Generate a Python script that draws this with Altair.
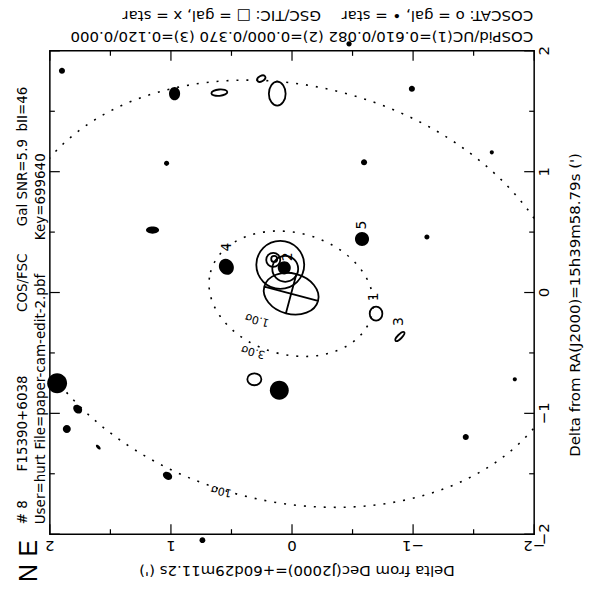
import altair as alt
import pandas as pd

PX = 121.4          # pixels per arcminute (plot is 486 px for 4')
W, H = 486, 485
FONT = "DejaVu Sans"
INK = "#000000"

# ---- catalogue objects (offsets in arcmin) ----
filled_x = [1.90, 0.97, -0.99, 1.036, -0.595, -1.65, 1.152, -1.114, 0.542,
            -0.578, 0.064, 0.105, 1.94, 1.77, 1.86, 1.60, 1.028, -1.435, -1.84,
            -0.471, 0.74]
filled_y = [1.835, 1.646, 1.687, 1.069, 1.078, 1.16, 0.517, 0.46, 0.213,
            0.443, 0.204, -0.809, -0.751, -0.965, -1.13, -1.28, -1.517, -1.196,
            -0.718, 2.058, -2.05]
filled_a = [0.025, 0.054, 0.025, 0.021, 0.025, 0.017, 0.054, 0.021, 0.068,
            0.058, 0.054, 0.078, 0.082, 0.041, 0.033, 0.025, 0.041, 0.025,
            0.017, 0.022, 0.024]
filled_ratio = [1, 0.85, 1, 1, 1, 1, 0.55, 1, 0.88,
                1, 1, 1, 1, 0.8, 1, 0.5, 0.75, 1, 1, 1, 1]
filled_angle = [0, 90, 0, 0, 0, 0, 0, 0, 60,
                0, 0, 0, 0, 45, 0, 45, 30, 0, 0, 0, 0]

open_x = [0.254, 0.60, 0.122, 0.311, -0.694, -0.891, 0.097, 0.056, 0.155, 0.147]
open_y = [1.77, 1.654, 1.646, -0.718, -0.175, -0.364, 0.229, 0.196, 0.27, 0.278]
open_a = [0.037, 0.066, 0.099, 0.058, 0.058, 0.05, 0.198, 0.107, 0.058, 0.025]
open_ratio = [0.6, 0.4, 0.7, 0.85, 0.9, 0.35, 1, 1, 1, 1]
open_angle = [330, 355, 90, 0, 90, 315, 0, 0, 0, 0]

# IRAS position error ellipse (3 and 10 sigma dotted, 1 sigma solid)
sig_x = [0.007, 0.007]
sig_y = [-0.01, -0.01]
sig_a = [0.69, 2.35]
one_sig_a = [0.23]
sig_ratio = 0.73
sig_angle = 15

num_text = ["1", "2", "3", "4", "5"]
num_x = [-0.677, 0.031, -0.883, 0.534, -0.578]
num_y = [-0.035, 0.295, -0.24, 0.377, 0.558]
sig_text = ["1.0σ", "3.0σ", "10σ"]
sig_lx = [0.287, 0.32, 0.583]
sig_ly = [-0.224, -0.488, -1.64]
sig_lang = [195, 195, 192]

major_ticks = [-2, -1, 0, 1, 2]
minor_ticks = [-1.5, -0.5, 0.5, 1.5]
tick_text = ["−2", "−1", "0", "1", "2"]

# ---- helpers ----
def ell_path(r):
    return f"M -1 0 A 1 {r:g} 0 1 1 1 0 A 1 {r:g} 0 1 1 -1 0 Z"

ratios = sorted(set(filled_ratio + open_ratio))
shape_scale = alt.Scale(domain=[f"{r:g}" for r in ratios],
                        range=[ell_path(r) for r in ratios])
xs = alt.Scale(domain=[-2, 2], reverse=True, nice=False, zero=False)
ys = alt.Scale(domain=[-2, 2], nice=False, zero=False)
size_scale = alt.Scale(type="pow", exponent=2, domain=[0, 1],
                       range=[0, 4 * PX * PX])

def X(f):
    return alt.X(f, type="quantitative", scale=xs, axis=None)

def Y(f):
    return alt.Y(f, type="quantitative", scale=ys, axis=None)

filled_df = pd.DataFrame({"x": filled_x, "y": filled_y, "a": filled_a,
                          "r": [f"{r:g}" for r in filled_ratio], "ang": filled_angle})
open_df = pd.DataFrame({"x": open_x, "y": open_y, "a": open_a,
                        "r": [f"{r:g}" for r in open_ratio], "ang": open_angle})
sig_df = pd.DataFrame({"x": sig_x, "y": sig_y, "a": sig_a})
one_df = pd.DataFrame({"x": sig_x[:1], "y": sig_y[:1], "a": one_sig_a})
num_df = pd.DataFrame({"x": num_x, "y": num_y, "t": num_text})
sl_df = pd.DataFrame({"x": sig_lx, "y": sig_ly, "t": sig_text, "ang": sig_lang})
lab_df = pd.DataFrame({"v": major_ticks, "t": tick_text})

sig_layer = alt.Chart(sig_df).mark_point(
    filled=False, stroke=INK, strokeWidth=1.6, strokeDash=[2, 8], opacity=1, clip=True
).encode(
    x=X("x"), y=Y("y"),
    size=alt.Size("a:Q", scale=size_scale, legend=None),
    shape=alt.value(ell_path(sig_ratio)), angle=alt.value(sig_angle),
)

one_layer = alt.Chart(one_df).mark_point(
    filled=False, stroke=INK, strokeWidth=1.8, opacity=1
).encode(
    x=X("x"), y=Y("y"),
    size=alt.Size("a:Q", scale=size_scale, legend=None),
    shape=alt.value(ell_path(sig_ratio) + f" M -1 0 L 1 0 M 0 -{sig_ratio} L 0 {sig_ratio}"),
    angle=alt.value(sig_angle),
)

filled_layer = alt.Chart(filled_df).mark_point(
    filled=True, fill=INK, strokeWidth=0, opacity=1
).encode(
    x=X("x"), y=Y("y"),
    size=alt.Size("a:Q", scale=size_scale, legend=None),
    shape=alt.Shape("r:N", scale=shape_scale, legend=None),
    angle=alt.Angle("ang:Q", scale=None),
)

open_layer = alt.Chart(open_df).mark_point(
    filled=False, stroke=INK, strokeWidth=1.8, opacity=1
).encode(
    x=X("x"), y=Y("y"),
    size=alt.Size("a:Q", scale=size_scale, legend=None),
    shape=alt.Shape("r:N", scale=shape_scale, legend=None),
    angle=alt.Angle("ang:Q", scale=None),
)

num_layer = alt.Chart(num_df).mark_text(
    font=FONT, fontSize=14, angle=270, fill=INK, align="center", baseline="middle"
).encode(x=X("x"), y=Y("y"), text="t:N")

sl_layer = alt.Chart(sl_df).mark_text(
    font=FONT, fontSize=11, fill=INK, align="center", baseline="middle"
).encode(x=X("x"), y=Y("y"), text="t:N", angle=alt.Angle("ang:Q", scale=None))

xlab_layer = alt.Chart(lab_df).mark_text(
    font=FONT, fontSize=15, angle=180, fill=INK, align="center", baseline="middle"
).encode(x=X("v"), y=alt.value(H + 12), text="t:N")
ylab_layer = alt.Chart(lab_df).mark_text(
    font=FONT, fontSize=15, angle=270, fill=INK, align="center", baseline="middle"
).encode(y=Y("v"), x=alt.value(W + 10), text="t:N")

tick_layers = []
for vals, ln in ((major_ticks, 10), (minor_ticks, 5)):
    tdf = pd.DataFrame({"t": vals})
    base = alt.Chart(tdf).mark_rule(color=INK, strokeWidth=1.2)
    tick_layers += [
        base.encode(x=X("t"), y=alt.value(0), y2=alt.value(ln)),
        base.encode(x=X("t"), y=alt.value(H), y2=alt.value(H - ln)),
        base.encode(y=Y("t"), x=alt.value(0), x2=alt.value(ln)),
        base.encode(y=Y("t"), x=alt.value(W), x2=alt.value(W - ln)),
    ]

def note(text, px, py, angle, size=15, align="left", font=FONT):
    return alt.Chart(pd.DataFrame({"t": [text]})).mark_text(
        font=font, fontSize=size, angle=angle, align=align, baseline="middle", fill=INK
    ).encode(text="t:N", x=alt.value(px - 50), y=alt.value(py - 50))

notes = [
    note("COSCAT: o = gal, • = star", 535, 15, 180),
    note("GSC/TIC: □ = gal, x = star", 322, 15, 180),
    note("COSPid/UC(1)=0.610/0.082 (2)=0.000/0.370 (3)=0.120/0.000", 535, 36, 180),
    note("# 8", 23, 525, 270, size=13.5),
    note("F15390+6038", 23, 472, 270, size=13.5),
    note("COS/FSC", 23, 312, 270, size=13.5),
    note("Gal SNR=5.9", 23, 226, 270, size=13.5),
    note("bII=46", 23, 131, 270, size=13.5),
    note("User=hurt", 41, 525, 270, size=13.5),
    note("File=paper-cam-edit-2.pbf", 41, 450, 270, size=13.5),
    note("Key=699640", 41, 240, 270, size=13.5),
    note("Delta from Dec(J2000)=+60d29m11.2s (')", 298, 572, 180, align="center"),
    note("Delta from RA(J2000)=15h39m58.79s (')", 577, 305, 270, align="center"),
    note("E", 29, 549, 270, size=25, align="center", font="Liberation Sans"),
    note("N", 29, 574, 270, size=25, align="center", font="Liberation Sans"),
]

chart = alt.layer(
    sig_layer, one_layer, open_layer, filled_layer, num_layer, sl_layer,
    xlab_layer, ylab_layer, *tick_layers, *notes
).properties(
    width=W, height=H,
    autosize=alt.AutoSizeParams(type="none"),
    padding={"left": 42, "top": 42, "right": 50, "bottom": 52},
    background="white",
).configure_view(stroke=INK, strokeWidth=1.5)

chart.save("out.html", embed_options={"renderer": "svg", "actions": False})
